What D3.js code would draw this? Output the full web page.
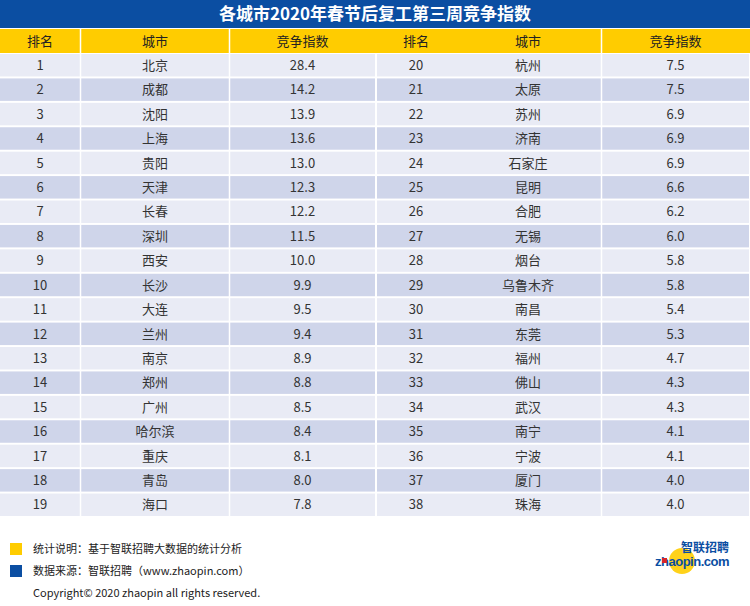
<!DOCTYPE html>
<html>
<head>
<meta charset="utf-8">
<script src="https://cdn.jsdelivr.net/npm/d3@7"></script>
<style>
  body { margin: 0; background: #fff; }
  svg { display: block; font-family: "Noto Sans CJK SC", "Noto Sans", sans-serif; }
</style>
</head>
<body>
<svg id="chart" width="750" height="606"></svg>
<script>
let title = '各城市2020年春节后复工第三周竞争指数';
let headers = ['排名', '城市', '竞争指数'];

let ranks = d3.range(1, 39);
let cities = ['北京', '成都', '沈阳', '上海', '贵阳', '天津', '长春', '深圳', '西安', '长沙',
    '大连', '兰州', '南京', '郑州', '广州', '哈尔滨', '重庆', '青岛', '海口',
    '杭州', '太原', '苏州', '济南', '石家庄', '昆明', '合肥', '无锡', '烟台', '乌鲁木齐',
    '南昌', '东莞', '福州', '佛山', '武汉', '南宁', '宁波', '厦门', '珠海'];
let scores = [28.4, 14.2, 13.9, 13.6, 13.0, 12.3, 12.2, 11.5, 10.0, 9.9,
    9.5, 9.4, 8.9, 8.8, 8.5, 8.4, 8.1, 8.0, 7.8,
    7.5, 7.5, 6.9, 6.9, 6.9, 6.6, 6.2, 6.0, 5.8, 5.8,
    5.4, 5.3, 4.7, 4.3, 4.3, 4.1, 4.1, 4.0, 4.0];

let notes = ['统计说明：基于智联招聘大数据的统计分析', '数据来源：智联招聘（www.zhaopin.com）'];
let copyright = 'Copyright© 2020 zhaopin all rights reserved.';

let colorTitle = '#0b4ea2';
let colorHeader = '#ffcc00';
let colorRowA = '#e9ebf5';
let colorRowB = '#cfd5ea';
let colorText = '#333';

let svg = d3.select('#chart');
let perSide = 19;

// column edges [left, right] for each half: rank, city, score
let sides = [
    {cols: [[0, 80], [81, 229], [230, 375]], seps: [80, 229]},
    {cols: [[377, 455], [455, 601], [602, 749]], seps: [601]}
];

let y = d3.scaleBand().domain(d3.range(perSide)).range([54, 516]).paddingInner(0.08);

// title band
svg.append('rect').attr('x', 0).attr('y', 0).attr('width', 750).attr('height', 28).attr('fill', colorTitle);
svg.append('text')
    .attr('x', 375).attr('y', 14).attr('dy', '0.36em')
    .attr('text-anchor', 'middle').attr('fill', '#fff')
    .attr('font-size', 17).attr('font-weight', 'bold')
    .text(title);

// header row
svg.append('rect').attr('x', 0).attr('y', 29).attr('width', 750).attr('height', 24).attr('fill', colorHeader);

sides.forEach(function (side, s) {
    let rows = d3.range(perSide).map(function (i) {
        let k = s * perSide + i;
        return {i: i, vals: [ranks[k], cities[k], scores[k].toFixed(1)]};
    });

    svg.append('g').selectAll('rect')
        .data(rows).join('rect')
        .attr('x', side.cols[0][0])
        .attr('width', side.cols[2][1] - side.cols[0][0])
        .attr('y', d => y(d.i))
        .attr('height', y.bandwidth())
        .attr('fill', d => d.i % 2 === 0 ? colorRowA : colorRowB);

    headers.forEach(function (h, c) {
        svg.append('text')
            .attr('x', (side.cols[c][0] + side.cols[c][1]) / 2)
            .attr('y', 41).attr('dy', '0.36em')
            .attr('text-anchor', 'middle').attr('fill', '#222')
            .attr('font-size', 13)
            .text(h);
    });

    let g = svg.append('g').selectAll('g')
        .data(rows).join('g')
        .attr('transform', d => 'translate(0,' + (y(d.i) + y.bandwidth() / 2) + ')');

    side.cols.forEach(function (col, c) {
        g.append('text')
            .attr('x', (col[0] + col[1]) / 2)
            .attr('dy', '0.36em')
            .attr('text-anchor', 'middle').attr('fill', colorText)
            .attr('font-size', 13)
            .text(d => d.vals[c]);
    });

    side.seps.forEach(function (sx) {
        svg.append('line')
            .attr('x1', sx + 0.5).attr('x2', sx + 0.5)
            .attr('y1', 29).attr('y2', 516)
            .attr('stroke', '#fff').attr('stroke-width', 1.5);
    });
});

// footer notes
let noteColors = [colorHeader, colorTitle];
notes.forEach(function (t, i) {
    let ny = 549 + i * 22;
    svg.append('rect').attr('x', 10).attr('y', ny - 6).attr('width', 12).attr('height', 12).attr('fill', noteColors[i]);
    svg.append('text').attr('x', 33).attr('y', ny).attr('dy', '0.36em')
        .attr('font-size', 11).attr('fill', '#222').text(t);
});
svg.append('text').attr('x', 33).attr('y', 593).attr('dy', '0.36em')
    .attr('font-size', 11).attr('fill', '#222').text(copyright);

// logo
let logo = svg.append('g');
logo.append('circle').attr('cx', 682).attr('cy', 561).attr('r', 13).attr('fill', '#ffd21a');
logo.append('text').attr('x', 729).attr('y', 548).attr('dy', '0.36em')
    .attr('text-anchor', 'end').attr('font-size', 12).attr('font-weight', 'bold')
    .attr('fill', '#0b4ea2').text('智联招聘');
logo.append('text').attr('x', 729).attr('y', 561).attr('dy', '0.36em')
    .attr('text-anchor', 'end').attr('font-size', 13).attr('font-weight', 'bold')
    .attr('font-family', 'Arial, "Liberation Sans", sans-serif')
    .attr('fill', '#0b4ea2').attr('letter-spacing', -0.5).text('zhaopin.com');
logo.append('rect').attr('x', 662).attr('y', 558).attr('width', 5).attr('height', 5).attr('fill', '#d7262b');
</script>
</body>
</html>
